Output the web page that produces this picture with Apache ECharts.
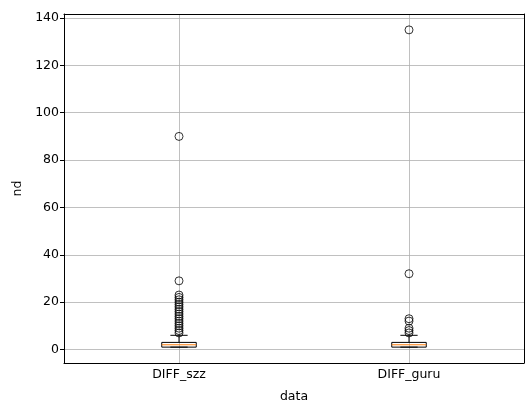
<!DOCTYPE html>
<html><head><meta charset="utf-8">
<script src="https://cdn.jsdelivr.net/npm/echarts@6/dist/echarts.min.js"></script>
<style>html,body{margin:0;padding:0;background:#fff}#c{width:525px;height:404px}</style>
</head><body><div id="c"></div>
<script>
const categories = ['DIFF_szz', 'DIFF_guru'];
// [whiskerLow, Q1, median, Q3, whiskerHigh]
const boxStats = [
  [1, 1, 2, 3, 6],
  [1, 1, 2, 3, 6]
];
const outliersSzz = [7, 8, 9, 10, 11, 12, 13, 14, 15, 16, 17, 18, 19, 20, 21, 22, 23, 29, 90];
const outliersGuru = [7, 8, 9, 12, 13, 32, 135];
const yTicks = [0, 20, 40, 60, 80, 100, 120, 140];

const outlierData = [];
outliersSzz.forEach(v => outlierData.push([categories[0], v]));
outliersGuru.forEach(v => outlierData.push([categories[1], v]));

const font = 'DejaVu Sans';
const fs = 12.5;
const chart = echarts.init(document.getElementById('c'), null, {renderer: 'canvas'});
chart.setOption({
  animation: false,
  grid: {left: 64, right: 1, top: 14, bottom: 41, outerBoundsMode: 'none', containLabel: false},
  xAxis: [{
    type: 'category', data: categories, boundaryGap: true,
    name: 'data', nameLocation: 'middle', nameGap: 27,
    nameTextStyle: {fontFamily: font, fontSize: fs, color: '#000'},
    axisLine: {onZero: false, lineStyle: {color: '#000', width: 1}},
    axisTick: {alignWithLabel: true, length: 4, lineStyle: {color: '#000'}},
    axisLabel: {fontFamily: font, fontSize: fs, color: '#000', margin: 5},
    splitLine: {show: false}
  }, {
    type: 'category', data: categories, position: 'top',
    axisLine: {onZero: false, lineStyle: {color: '#000', width: 1}},
    axisTick: {show: false}, axisLabel: {show: false}, splitLine: {show: false}
  }],
  yAxis: [{
    type: 'value', min: -5.7, max: 141.7,
    name: 'nd', nameLocation: 'middle', nameGap: 40, nameRotate: 90,
    nameTextStyle: {fontFamily: font, fontSize: fs, color: '#000'},
    axisLine: {show: true, onZero: false, lineStyle: {color: '#000', width: 1}},
    axisTick: {show: true, length: 4, lineStyle: {color: '#000'}, customValues: yTicks},
    axisLabel: {fontFamily: font, fontSize: fs, color: '#000', margin: 5, customValues: yTicks},
    splitLine: {show: false}
  }, {
    type: 'value', min: -5.7, max: 141.7, position: 'right',
    axisLine: {show: true, onZero: false, lineStyle: {color: '#000', width: 1}},
    axisTick: {show: false}, axisLabel: {show: false}, splitLine: {show: false}
  }],
  series: [
    {
      type: 'custom',
      coordinateSystem: 'cartesian2d',
      data: boxStats.map((s, i) => [i].concat(s)),
      encode: {x: 0, y: [1, 2, 3, 4, 5]},
      z: 2,
      renderItem: function (params, api) {
        const i = api.value(0);
        const lo = api.coord([i, api.value(1)]);
        const q1 = api.coord([i, api.value(2)]);
        const med = api.coord([i, api.value(3)]);
        const q3 = api.coord([i, api.value(4)]);
        const hi = api.coord([i, api.value(5)]);
        const bw = api.size([1, 0])[0] * 0.15;
        const x = lo[0];
        const ls = {stroke: '#000', lineWidth: 1, fill: 'rgba(0,0,0,0)'};
        return {
          type: 'group',
          children: [
            {type: 'rect', shape: {x: x - bw / 2, y: q3[1], width: bw, height: q1[1] - q3[1]}, style: {stroke: '#000', lineWidth: 1, fill: 'rgba(0,0,0,0)'}},
            {type: 'line', shape: {x1: x, y1: q3[1], x2: x, y2: hi[1]}, style: ls},
            {type: 'line', shape: {x1: x, y1: q1[1], x2: x, y2: lo[1]}, style: ls},
            {type: 'line', shape: {x1: x - bw / 4, y1: hi[1], x2: x + bw / 4, y2: hi[1]}, style: ls},
            {type: 'line', shape: {x1: x - bw / 4, y1: lo[1], x2: x + bw / 4, y2: lo[1]}, style: ls},
            {type: 'line', shape: {x1: x - bw / 2, y1: med[1], x2: x + bw / 2, y2: med[1]}, style: {stroke: '#ff7f0e', lineWidth: 1}}
          ]
        };
      },
      markLine: {
        silent: true, symbol: 'none', animation: false,
        label: {show: false},
        lineStyle: {color: '#b0b0b0', width: 0.8, type: 'solid'},
        z: 0,
        data: yTicks.map(v => ({yAxis: v})).concat(categories.map(c => ({xAxis: c})))
      }
    },
    {
      type: 'scatter',
      data: outlierData,
      symbol: 'circle', symbolSize: 8,
      z: 3,
      itemStyle: {color: 'rgba(0,0,0,0)', borderColor: '#000', borderWidth: 1}
    }
  ]
});
</script></body></html>
